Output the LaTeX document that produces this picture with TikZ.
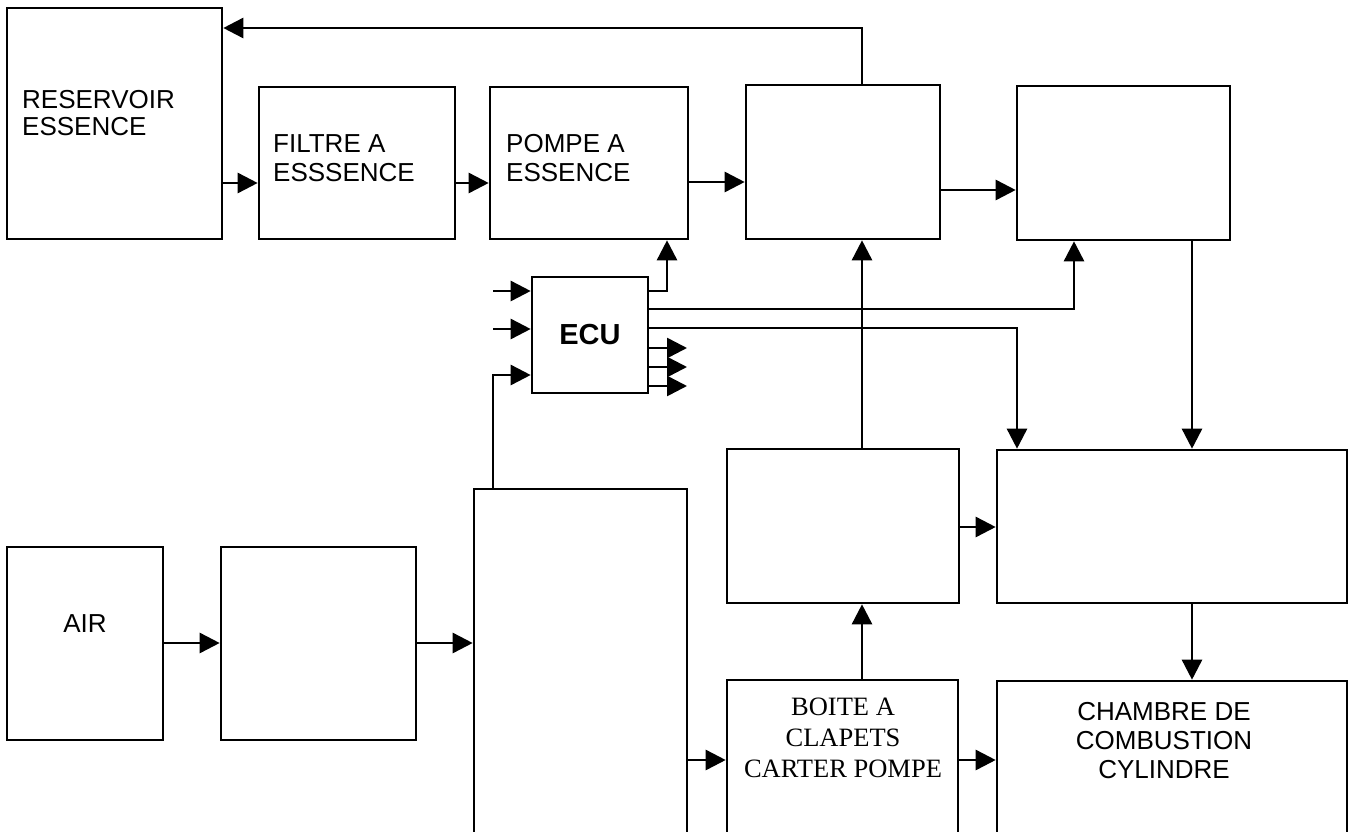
\documentclass[tikz,border=0pt]{standalone}
\usepackage{fontspec}
\setmainfont{Liberation Sans}
\newfontfamily\timesfont{Liberation Serif}
\usetikzlibrary{arrows.meta}
\begin{document}
\begin{tikzpicture}[x=1pt,y=-1pt,
  box/.style={draw, line width=2.6pt, inner sep=0pt},
  arr/.style={line width=2.6pt, -{Triangle[length=20pt,width=20pt]}},
  lbl/.style={inner sep=0pt, font=\fontsize{26}{27}\selectfont},
]
\clip (0,0) rectangle (1354,832);
\fill[white] (0,0) rectangle (1354,832);
% boxes
\node[box, minimum width=215, minimum height=231] (res) at (114.5,123.5) {};
\node[box, minimum width=196, minimum height=152] (fil) at (357,163) {};
\node[box, minimum width=198, minimum height=152] (pom) at (589,163) {};
\node[box, minimum width=194, minimum height=154] (b4) at (843,162) {};
\node[box, minimum width=213, minimum height=154] (b5) at (1123.5,163) {};
\node[box, minimum width=116, minimum height=116, font=\bfseries\fontsize{29}{30}\selectfont] (ecu) at (590,335) {ECU};
\node[box, minimum width=232, minimum height=154] (mid) at (843,526) {};
\node[box, minimum width=350, minimum height=153] (rmid) at (1172,526.5) {};
\node[box, minimum width=156, minimum height=193] (air) at (85,643.5) {};
\node[box, minimum width=195, minimum height=193] (b2) at (318.5,643.5) {};
\node[box, minimum width=213, minimum height=371] (tall) at (580.5,674.5) {};
\node[box, minimum width=231, minimum height=180] (boite) at (842.5,770) {};
\node[box, minimum width=350, minimum height=179] (chambre) at (1172,770.5) {};
% texts
\node[lbl, anchor=north west, align=left] (tres) at (22,90) {RESERVOIR\\ESSENCE};
\node[lbl, anchor=north west, align=left, font=\fontsize{26}{29}\selectfont] (tfil) at (273,134) {FILTRE A\\ESSSENCE};
\node[lbl, anchor=north west, align=left, font=\fontsize{26}{29}\selectfont] (tpom) at (506,134) {POMPE A\\ESSENCE};
\node[lbl, anchor=base] (tair) at (85,632) {AIR};
\node[lbl, anchor=north, align=center, font=\timesfont\fontsize{26.5}{31}\selectfont] (tboite) at (843,698) {BOITE A\\CLAPETS\\CARTER POMPE};
\node[lbl, anchor=north, align=center, font=\fontsize{26}{29}\selectfont] (tch) at (1164,702) {CHAMBRE DE\\COMBUSTION\\CYLINDRE};
% fuel line
\draw[arr] (res.east |- 0,183) -- (fil.west |- 0,183);
\draw[arr] (fil.east |- 0,183) -- (pom.west |- 0,183);
\draw[arr] (pom.east |- 0,182) -- (b4.west |- 0,182);
\draw[arr] (b4.east |- 0,190) -- (b5.west |- 0,190);
\draw[arr] (b4.north -| 862,0) -- (862,28) -- (res.east |- 0,28);
% ECU outputs
\draw[arr] (ecu.east |- 0,291) -- (667,291) -- (pom.south -| 667,0);
\draw[arr] (ecu.east |- 0,309) -- (1074,309) -- (b5.south -| 1074,0);
\draw[arr] (ecu.east |- 0,328) -- (1017,328) -- (rmid.north -| 1017,0);
\coordinate (o1) at (687,348);
\coordinate (o2) at (687,367);
\coordinate (o3) at (687,386);
\draw[arr] (ecu.east |- o1) -- (o1);
\draw[arr] (ecu.east |- o2) -- (o2);
\draw[arr] (ecu.east |- o3) -- (o3);
% ECU inputs
\coordinate (i1) at (493,291);
\coordinate (i2) at (493,329);
\draw[arr] (i1) -- (ecu.west |- i1);
\draw[arr] (i2) -- (ecu.west |- i2);
\draw[arr] (tall.north -| 493,0) -- (493,375) -- (ecu.west |- 0,375);
% middle
\draw[arr] (mid.north -| 862,0) -- (b4.south -| 862,0);
\draw[arr] (b5.south -| 1192,0) -- (rmid.north -| 1192,0);
\draw[arr] (mid.east |- 0,527) -- (rmid.west |- 0,527);
\draw[arr] (boite.north -| 862,0) -- (mid.south -| 862,0);
\draw[arr] (rmid.south -| 1192,0) -- (chambre.north -| 1192,0);
% air line
\draw[arr] (air.east |- 0,643) -- (b2.west |- 0,643);
\draw[arr] (b2.east |- 0,643) -- (tall.west |- 0,643);
\draw[arr] (tall.east |- 0,760) -- (boite.west |- 0,760);
\draw[arr] (boite.east |- 0,760) -- (chambre.west |- 0,760);
\end{tikzpicture}
\end{document}
